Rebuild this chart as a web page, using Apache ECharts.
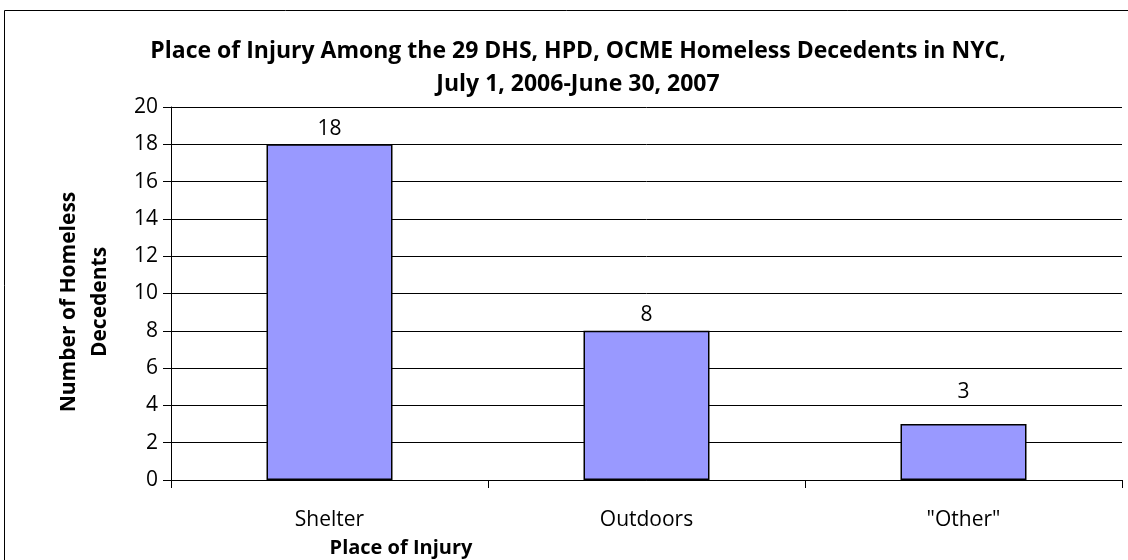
<!DOCTYPE html>
<html><head><meta charset="utf-8">
<script src="https://cdn.jsdelivr.net/npm/echarts@6/dist/echarts.min.js"></script>
<style>html,body{margin:0;padding:0;background:#fff}#c{width:1128px;height:560px}</style>
</head><body><div id="c"></div>
<script>
const categories = ['Shelter', 'Outdoors', '"Other"'];
const values = [18, 8, 3];
const yTicks = [0, 2, 4, 6, 8, 10, 12, 14, 16, 18, 20];
const titleLines = ['Place of Injury Among the 29 DHS, HPD, OCME Homeless Decedents in NYC,', 'July 1, 2006-June 30, 2007'];

const chart = echarts.init(document.getElementById('c'));
const font = 'Open Sans';
const labelDistances = [5, 5, 22];
chart.setOption({
  animation: false,
  backgroundColor: '#fff',
  title: {
    text: titleLines.join('\n'),
    left: 573, top: 30, textAlign: 'center',
    textStyle: { fontFamily: font, fontWeight: 'bold', fontSize: 23, lineHeight: 33, color: '#000' }
  },
  graphic: [
    { type: 'rect', shape: { x: 4.5, y: 10.5, width: 1130, height: 560 }, style: { fill: 'none', stroke: '#000', lineWidth: 1 } },
    { type: 'text', x: 401, y: 548, style: { text: 'Place of Injury', textAlign: 'center', textVerticalAlign: 'middle', font: 'bold 20px "Open Sans"', fill: '#000' } },
    { type: 'text', rotation: Math.PI / 2, x: 85, y: 302, style: { text: 'Number of Homeless\nDecedents', textAlign: 'center', textVerticalAlign: 'middle', font: 'bold 21px "Open Sans"', lineHeight: 31, fill: '#000' } }
  ],
  grid: { left: 171, right: 6, top: 107, bottom: 80, containLabel: false },
  xAxis: {
    type: 'category', data: categories,
    axisLine: { lineStyle: { color: '#000', width: 1 } },
    axisTick: { show: true, length: 8, interval: 0, alignWithLabel: false, lineStyle: { color: '#000' } },
    axisLabel: { fontFamily: font, fontSize: 21, color: '#000', margin: 30 }
  },
  yAxis: {
    type: 'value', min: 0, max: 20, interval: 2,
    axisLine: { show: true, lineStyle: { color: '#000', width: 1 } },
    axisTick: { show: true, length: 8, lineStyle: { color: '#000' } },
    axisLabel: { fontFamily: font, fontSize: 21, color: '#000', margin: 13, formatter: v => yTicks.includes(v) ? String(v) : '' },
    splitLine: { show: true, lineStyle: { color: '#000', width: 1 } }
  },
  series: [{
    type: 'bar', barWidth: 126,
    data: values.map((v, i) => ({ value: v, label: { distance: labelDistances[i] } })),
    itemStyle: { color: '#9999FF', borderColor: '#000', borderWidth: 1.5 },
    label: { show: true, position: 'top', distance: 5, fontFamily: font, fontSize: 21, color: '#000' }
  }]
});
</script></body></html>
